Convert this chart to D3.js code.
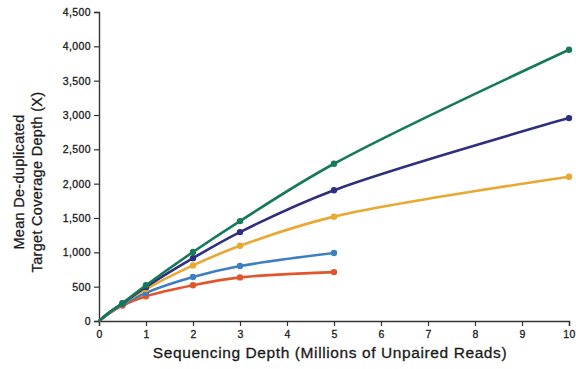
<!DOCTYPE html>
<html>
<head>
<meta charset="utf-8">
<script src="https://cdn.jsdelivr.net/npm/d3@7"></script>
<style>
  body { margin: 0; background: #fff; }
  svg { display: block; font-family: 'Liberation Sans', Arial, sans-serif; }
</style>
</head>
<body>
<svg id="chart" width="576" height="369"></svg>
<script>
// ── data ─────────────────────────────────────────────
const depthsLong  = [0, 0.1, 0.25, 0.5, 1, 2, 3, 5, 10];
const depthsShort = [0, 0.1, 0.25, 0.5, 1, 2, 3, 5];

const greenVals  = [0, 60, 140, 260, 520, 1005, 1455, 2290, 3950];
const purpleVals = [0, 60, 140, 255, 495, 915, 1295, 1905, 2955];
const yellowVals = [0, 58, 135, 250, 465, 810, 1095, 1520, 2100];
const blueVals   = [0, 55, 130, 240, 410, 640, 800, 990];
const redVals    = [0, 52, 125, 225, 360, 520, 635, 712];

const xTicks = [0, 1, 2, 3, 4, 5, 6, 7, 8, 9, 10];
const yTicks = [0, 500, 1000, 1500, 2000, 2500, 3000, 3500, 4000, 4500];

const series = [
  { name: 'red',    color: '#e0552b', x: depthsShort, y: redVals },
  { name: 'blue',   color: '#3d80c2', x: depthsShort, y: blueVals },
  { name: 'yellow', color: '#e9a832', x: depthsLong,  y: yellowVals },
  { name: 'purple', color: '#2f2f7e', x: depthsLong,  y: purpleVals },
  { name: 'green',  color: '#16795a', x: depthsLong,  y: greenVals },
];

// ── layout ───────────────────────────────────────────
const svg = d3.select('#chart');
const x = d3.scaleLinear().domain([0, 10]).range([99, 569]);
const y = d3.scaleLinear().domain([0, 4500]).range([321, 12]);

// axes
const fmt = d3.format(',');
const yAxis = svg.append('g')
  .attr('transform', 'translate(99,0)')
  .call(d3.axisLeft(y).tickValues(yTicks).tickFormat(fmt).tickSize(5).tickPadding(3));
const xAxis = svg.append('g')
  .attr('transform', 'translate(0,321)')
  .call(d3.axisBottom(x).tickValues(xTicks).tickSize(5).tickPadding(5));

[yAxis, xAxis].forEach(a => {
  a.select('.domain').attr('stroke', '#333').attr('stroke-width', 1.4);
  a.selectAll('.tick line').attr('stroke', '#333').attr('stroke-width', 1.2);
  a.selectAll('.tick text')
    .attr('font-family', "'Liberation Sans', Arial, sans-serif")
    .attr('font-size', 10.5)
    .attr('letter-spacing', 0.4)
    .attr('fill', '#1a1a1a')
    .attr('stroke', '#1a1a1a')
    .attr('stroke-width', 0.3);
});

// axis titles
svg.append('text')
  .attr('x', 330).attr('y', 358)
  .attr('text-anchor', 'middle')
  .attr('font-size', 15.5)
  .attr('letter-spacing', 0.6)
  .attr('fill', '#1a1a1a')
  .attr('stroke', '#1a1a1a')
  .attr('stroke-width', 0.3)
  .text('Sequencing Depth (Millions of Unpaired Reads)');

const yt = svg.append('text')
  .attr('transform', 'translate(0,182) rotate(-90)')
  .attr('text-anchor', 'middle')
  .attr('font-size', 14.5)
  .attr('letter-spacing', 0.3)
  .attr('fill', '#1a1a1a')
  .attr('stroke', '#1a1a1a')
  .attr('stroke-width', 0.3);
yt.append('tspan').attr('x', 0).attr('y', 24).text('Mean De-duplicated');
yt.append('tspan').attr('x', 0).attr('y', 42).text('Target Coverage Depth (X)');

// ── lines & points ───────────────────────────────────
const line = d3.line()
  .x(d => x(d[0]))
  .y(d => y(d[1]))
  .curve(d3.curveCatmullRom.alpha(0.5));

series.forEach(s => {
  const pts = s.x.map((v, i) => [v, s.y[i]]);
  svg.append('path')
    .datum(pts)
    .attr('fill', 'none')
    .attr('stroke', s.color)
    .attr('stroke-width', 2.6)
    .attr('stroke-linejoin', 'round')
    .attr('d', line);
  svg.append('g').selectAll('circle')
    .data(pts.filter(p => p[0] >= 1 || p[0] === 0.5))
    .join('circle')
    .attr('cx', d => x(d[0]))
    .attr('cy', d => y(d[1]))
    .attr('r', 3.2)
    .attr('fill', s.color);
});
</script>
</body>
</html>
